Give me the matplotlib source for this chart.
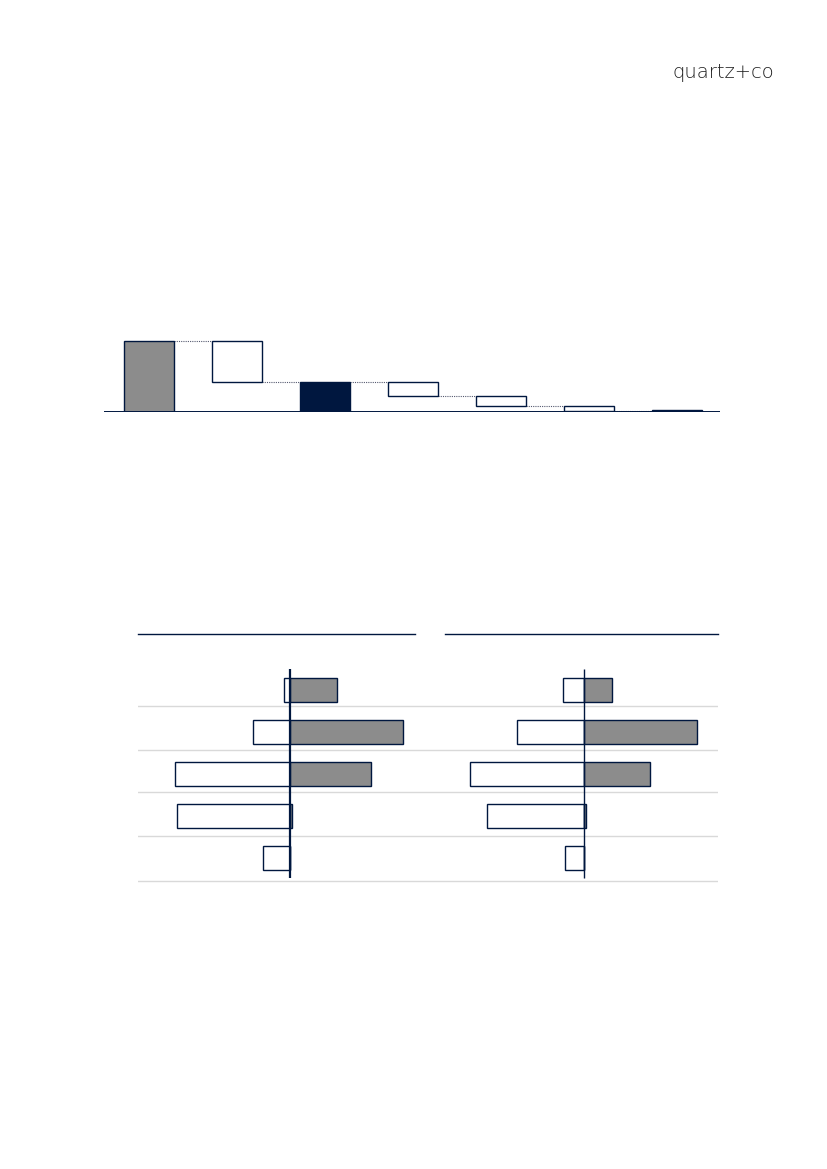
import matplotlib
matplotlib.use("Agg")
import matplotlib.pyplot as plt
from matplotlib.lines import Line2D
import numpy as np

NAVY = "#00173F"
GRAY = "#8C8C8C"
LIGHT = "#D9D9D9"

# ---- data ----
wf_steps = ["Total", "Step 1", "Subtotal", "Step 2", "Step 3", "Step 4", "Final"]
wf_values = [70, -40, 30, -14, -10, -5, 1.5]
wf_kind = ["total", "delta", "total", "delta", "delta", "delta", "total"]

rows = ["A", "B", "C", "D", "E"]
left_neg = [-5.7, -36.7, -114.7, -112.7, -26.7]
left_pos = [47.3, 113.3, 81.3, 2.3, 0.0]
right_neg = [-21, -67, -114, -97, -19]
right_pos = [28, 113, 66, 1.3, 0.0]

W, H = 827, 1169
fig = plt.figure(figsize=(W / 100, H / 100), dpi=100)


def fax(x0, y0, x1, y1):
    """axes from pixel box (top-left origin)"""
    return fig.add_axes([x0 / W, 1 - y1 / H, (x1 - x0) / W, (y1 - y0) / H])


# ---- logo ----
fig.text(774 / W, 1 - 78.5 / H, "quartz+co", ha="right", va="baseline",
         fontsize=14, color="#1e1e1e", family="DejaVu Sans", fontweight=200)

# ---- waterfall ----
ax = fax(104, 331, 720, 412)
ax.set_xlim(-0.511, 6.489)
ax.set_ylim(0, 80)
bw = 50 / 88
level = 0
tops = []
for i, (v, k) in enumerate(zip(wf_values, wf_kind)):
    if k == "total":
        ax.bar(i, v, width=bw, bottom=0, color=(GRAY if i == 0 else NAVY),
               edgecolor=NAVY, linewidth=1.0, zorder=3)
        level = v
        tops.append((v, v))
    else:
        new = level + v
        ax.bar(i, level - new, width=bw, bottom=new, color="white",
               edgecolor=NAVY, linewidth=1.0, zorder=3)
        tops.append((level, new))
        level = new
for i in range(len(wf_values) - 1):
    y = tops[i][1]
    ax.plot([i + bw / 2, i + 1 - bw / 2], [y, y], color="#555a70",
            linestyle=(0, (1, 1)), linewidth=0.8, zorder=2)
ax.axhline(0, color=NAVY, linewidth=1.4, zorder=4)
ax.axis("off")

# ---- diverging panels ----
def panel(x0, x1, zero_px, neg, pos, zero_lw):
    a = fax(x0, 620, x1, 885)
    a.set_xlim(x0 - zero_px, x1 - zero_px)
    a.set_ylim(4.636, -1.674)
    y = np.arange(len(rows))
    h = 24 / 42
    a.barh(y, neg, height=h, color="white", edgecolor=NAVY, linewidth=1.0, zorder=3)
    a.barh(y, pos, height=h, color=GRAY, edgecolor=NAVY, linewidth=1.0, zorder=3)
    for off in [0.374, 1.421, 2.421, 3.469, 4.54]:
        a.axhline(off, color=LIGHT, linewidth=1.0, zorder=1)
    a.vlines(0, -0.507, 4.47, color=NAVY, linewidth=zero_lw, zorder=4)
    a.axis("off")
    return a

panel(138, 430, 290, left_neg, left_pos, 1.6)
panel(430, 718, 584.3, right_neg, right_pos, 1.0)

fig.add_artist(Line2D([138 / W, 415 / W], [1 - 634 / H, 1 - 634 / H], color=NAVY, linewidth=1.0))
fig.add_artist(Line2D([445 / W, 718 / W], [1 - 634 / H, 1 - 634 / H], color=NAVY, linewidth=1.0))

fig.savefig("out.png", dpi=100)
